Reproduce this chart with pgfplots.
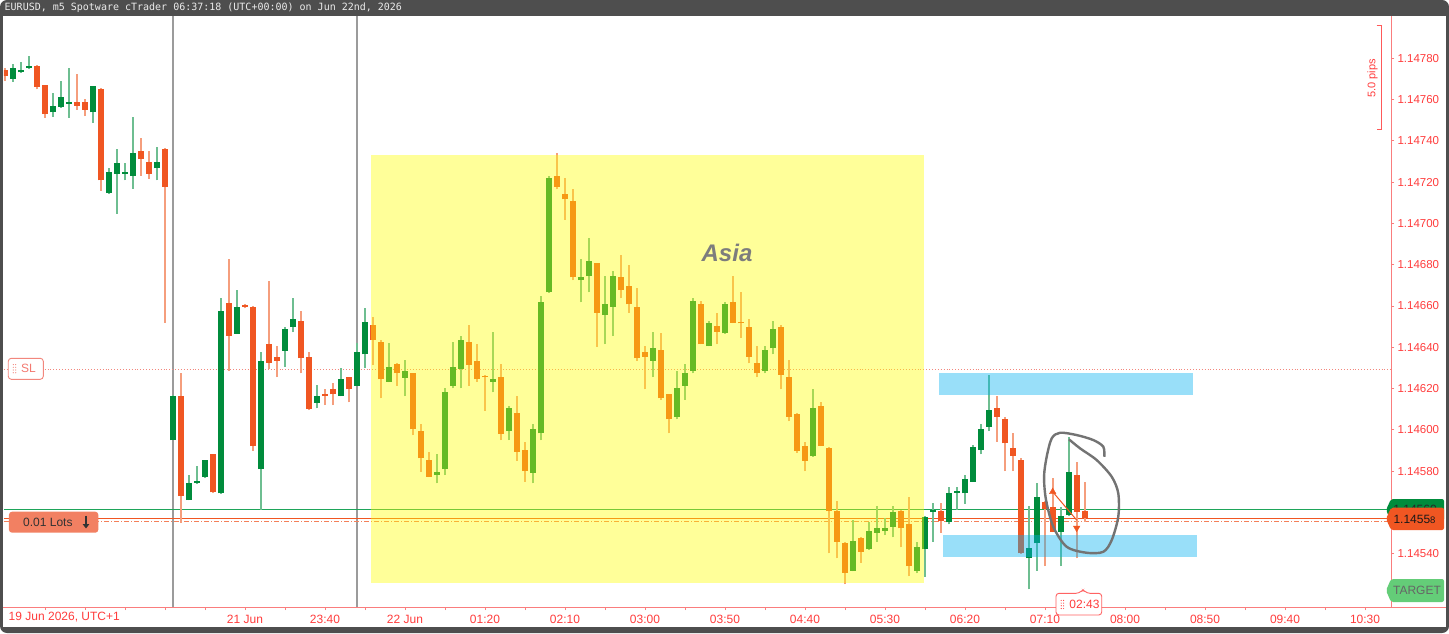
\documentclass[border=0pt]{standalone}
\usepackage{pgfplots}
\pgfplotsset{compat=1.18}
\usepackage{pgfplotstable}
\usetikzlibrary{arrows.meta,calc,backgrounds}
\usepackage{fontspec}
\setmainfont{Liberation Sans}
\newfontfamily\monofont{DejaVu Sans Mono}
\definecolor{bull}{RGB}{0,140,60}
\definecolor{bear}{RGB}{240,86,34}
\definecolor{bullwick}{RGB}{110,190,145}
\definecolor{bearwick}{RGB}{245,158,125}
\definecolor{axisline}{RGB}{250,125,125}
\definecolor{labelred}{RGB}{255,60,60}
\definecolor{framegray}{RGB}{78,78,78}
\definecolor{sepgray}{RGB}{155,155,155}
\definecolor{zoneblue}{RGB}{0,176,240}
\definecolor{zoneyellow}{RGB}{255,255,0}
\definecolor{handgray}{RGB}{115,115,115}
\definecolor{askgreen}{RGB}{30,165,90}
\definecolor{lotsfill}{RGB}{242,128,98}
\definecolor{targetgreen}{RGB}{100,205,120}
\definecolor{slred}{RGB}{242,135,125}
\definecolor{asiagray}{RGB}{125,125,125}
\newcommand{\firstdaylabel}{19 Jun 2026, UTC+1}

% EURUSD m5 candles; prices written as points above 1.14500 (58.0 = 1.14558)
\pgfplotstableread{
i o h l c
0 274.3 275.4 269.0 271.4
1 270.1 277.2 268.7 275.3
2 273.2 278.4 273.0 274.3
3 275.2 281.1 275.0 275.4
4 276.4 276.6 265.0 266.2
5 267.1 267.3 251.2 253.0
6 253.8 263.2 251.7 257.0
7 256.3 269.2 256.1 261.4
8 258.1 275.2 251.2 258.3
9 259.0 272.4 255.0 257.0
10 259.0 260.3 252.0 255.0
11 253.8 266.6 248.8 266.4
12 265.3 265.5 215.9 220.9
13 214.7 226.7 214.5 224.9
14 224.1 236.2 204.7 229.1
15 224.1 229.1 220.9 224.4
16 223.0 251.4 216.7 234.3
17 235.1 241.4 223.0 231.1
18 229.9 235.1 221.7 224.1
19 226.7 237.0 220.9 229.9
20 236.2 236.4 151.8 217.8
21 95.1 116.7 94.9 116.5
22 116.5 127.4 55.0 67.9
23 66.0 78.3 65.8 74.4
24 74.2 82.5 74.0 74.4
25 77.1 85.4 76.9 85.2
26 88.3 88.5 69.5 69.7
27 69.2 163.9 69.0 157.6
28 161.6 182.9 128.5 145.5
29 146.6 167.7 146.4 159.7
30 160.6 160.9 158.9 159.7
31 159.7 159.9 89.9 92.3
32 81.0 137.6 61.2 133.5
33 141.7 172.0 129.5 132.5
34 135.4 140.6 125.5 133.5
35 138.3 150.0 130.6 148.7
36 149.8 163.7 147.3 153.7
37 152.6 157.6 127.4 134.7
38 135.4 137.6 109.6 110.1
39 113.1 121.7 110.4 116.5
40 117.4 119.6 112.0 116.4
41 119.6 122.5 112.0 117.2
42 116.4 129.8 116.2 124.6
43 125.5 125.7 113.3 119.6
44 121.4 141.9 121.2 137.6
45 136.6 158.9 129.8 152.4
46 150.6 154.5 131.4 143.5
47 142.6 143.5 115.3 124.5
48 123.3 141.9 123.1 130.4
49 131.7 132.5 121.4 127.4
50 125.3 133.8 116.4 128.5
51 127.4 127.6 97.5 100.3
52 99.4 102.7 79.7 86.2
53 85.4 89.4 77.1 77.3
54 78.1 88.3 74.1 79.4
55 81.0 120.1 78.1 118.5
56 121.4 142.7 120.1 130.4
57 129.5 145.6 120.1 143.5
58 142.6 150.6 121.4 131.4
59 133.5 141.6 123.3 124.5
60 125.6 126.6 109.3 125.4
61 123.3 147.4 118.2 124.5
62 125.5 131.7 95.1 98.1
63 99.4 111.5 95.1 110.4
64 108.3 116.4 85.0 89.4
65 90.2 94.2 74.9 80.0
66 79.2 102.7 74.1 100.3
67 98.3 164.8 95.1 161.8
68 166.6 223.0 166.4 221.9
69 223.0 234.3 216.5 217.8
70 214.3 221.9 201.7 211.7
71 211.0 216.7 172.6 173.9
72 172.6 182.8 161.8 173.9
73 174.5 192.8 166.6 181.9
74 180.7 180.9 140.3 156.7
75 155.6 174.5 141.6 160.8
76 159.7 177.0 145.5 174.5
77 173.9 184.7 163.7 167.7
78 169.7 179.9 156.7 160.8
79 159.5 168.9 133.5 134.7
80 137.6 140.6 119.6 135.4
81 133.5 147.4 125.5 139.5
82 138.7 146.8 114.5 115.3
83 117.2 117.4 98.3 105.1
84 106.4 128.5 105.1 120.4
85 121.4 131.7 114.5 127.4
86 128.5 163.7 127.4 162.6
87 160.8 162.6 141.4 141.6
88 140.6 152.7 140.4 151.6
89 150.4 156.7 141.6 147.5
90 146.8 161.8 146.6 160.8
91 161.8 174.7 151.7 151.9
92 152.4 166.9 144.6 151.6
93 149.7 153.5 132.2 135.4
94 132.2 140.6 125.5 127.4
95 128.5 140.6 127.4 138.7
96 139.5 152.7 136.6 148.7
97 150.0 150.8 119.6 126.6
98 125.5 133.8 104.3 106.4
99 107.7 108.3 88.9 89.9
100 92.3 94.2 80.0 85.0
101 87.3 119.6 87.1 110.4
102 111.5 113.6 92.1 92.3
103 91.3 91.5 40.2 60.7
104 60.8 65.7 37.8 45.8
105 45.3 45.5 25.3 30.8
106 31.7 56.3 31.5 46.1
107 47.4 48.2 35.6 41.0
108 42.1 55.5 41.9 51.0
109 50.2 63.1 45.8 52.3
110 51.0 57.1 49.0 52.3
111 53.1 63.1 47.9 60.3
112 60.8 61.0 43.1 52.3
113 54.2 67.3 29.2 34.0
114 31.7 45.8 30.5 43.1
115 42.1 58.1 28.8 57.9
116 60.2 64.4 45.8 60.4
117 60.7 64.4 50.2 56.0
118 55.2 72.4 54.2 69.2
119 69.6 72.4 61.2 69.8
120 69.2 78.1 64.1 76.2
121 74.9 92.6 74.7 91.5
122 90.2 102.7 88.1 100.4
123 101.5 126.6 99.4 109.6
124 110.4 116.5 94.2 106.4
125 105.2 106.4 80.0 93.5
126 91.3 98.3 80.0 87.5
127 85.4 86.5 40.0 40.2
128 37.8 63.1 22.7 42.9
129 45.0 74.4 31.7 67.6
130 65.2 65.4 34.0 61.6
131 62.8 76.5 50.4 50.6
132 50.6 62.5 34.0 58.2
133 58.7 96.4 58.5 79.4
134 78.1 84.6 37.8 60.3
135 60.8 74.9 55.5 57.3
}\candles

\newcommand{\grip}[3]{% x y color
  \foreach \yy in {0,1,2,3}{\foreach \xx in {0,1}{\fill[#3] (#1+\xx*2.4,#2+\yy*2.7) circle (0.6);}}}

\begin{document}
\begin{tikzpicture}[x=1pt,y=1pt]
\begin{axis}[
  scale only axis,
  width=1387pt, height=591pt,
  xmin=-0.125, xmax=173.25, ymin=14.2, ymax=300.5,
  axis x line*=bottom, axis y line*=right,
  axis line style={draw=axisline, line width=1pt},
  tick align=outside, major tick length=3pt,
  tick style={draw=axisline, line width=0.9pt},
  xtick={5,10,...,170},
  xticklabels={,,,,,21 Jun,,23:40,,22 Jun,,01:20,,02:10,,03:00,,03:50,,04:40,,05:30,,06:20,,07:10,,08:00,,08:50,,09:40,,10:30},
  extra x ticks={7.41},
  extra x tick labels={\firstdaylabel},
  extra x tick style={major tick length=0pt},
  ytick={40,80,100,120,140,160,180,200,220,240,260,280},
  yticklabels={1.14540,1.14580,1.14600,1.14620,1.14640,1.14660,1.14680,1.14700,1.14720,1.14740,1.14760,1.14780},
  xticklabel style={font=\fontsize{12}{12}\selectfont, text=labelred, yshift=-1.5pt},
  yticklabel style={font=\fontsize{11.5}{12}\selectfont, text=labelred},
]
% session separators
\addplot[sepgray, line width=1.3pt, forget plot] coordinates {(21,14.2) (21,300.5)};
\addplot[sepgray, line width=1.3pt, forget plot] coordinates {(44,14.2) (44,300.5)};
% SL, ask, bid and position lines
\addplot[slred, line width=0.9pt, dotted, forget plot] coordinates {(-0.125,129.5) (173.25,129.5)};
\addplot[askgreen, line width=1pt, forget plot] coordinates {(-0.125,61.2) (173.25,61.2)};
\addplot[bear, line width=0.9pt, forget plot] coordinates {(-0.125,57.3) (173.25,57.3)};
\addplot[bear!75, line width=0.9pt, dash pattern=on 5pt off 2pt on 1pt off 2pt, forget plot] coordinates {(-0.125,55.5) (173.25,55.5)};
% wicks
\addplot[draw=none, no marks, forget plot,
  x filter/.expression={\thisrow{c}>=\thisrow{o} ? x : nan},
  error bars/.cd, y dir=plus, y explicit, error mark=none,
  error bar style={draw=bullwick, line width=1.3pt}]
  table[x=i, y=l, y error expr=\thisrow{h}-\thisrow{l}] {\candles};
\addplot[draw=none, no marks, forget plot,
  x filter/.expression={\thisrow{c}<\thisrow{o} ? x : nan},
  error bars/.cd, y dir=plus, y explicit, error mark=none,
  error bar style={draw=bearwick, line width=1.3pt}]
  table[x=i, y=l, y error expr=\thisrow{h}-\thisrow{l}] {\candles};
% bodies
\addplot[draw=none, no marks, forget plot,
  x filter/.expression={\thisrow{c}>=\thisrow{o} ? x : nan},
  error bars/.cd, y dir=plus, y explicit, error mark=none,
  error bar style={draw=bull, line width=5.6pt}]
  table[x=i, y expr={min(\thisrow{o},\thisrow{c})}, y error expr={max(abs(\thisrow{c}-\thisrow{o}),0.9)}] {\candles};
\addplot[draw=none, no marks, forget plot,
  x filter/.expression={\thisrow{c}<\thisrow{o} ? x : nan},
  error bars/.cd, y dir=plus, y explicit, error mark=none,
  error bar style={draw=bear, line width=5.6pt}]
  table[x=i, y expr={min(\thisrow{o},\thisrow{c})}, y error expr={max(abs(\thisrow{c}-\thisrow{o}),0.9)}] {\candles};
% Asia session box
\addplot[draw=none, fill=zoneyellow, fill opacity=0.4, forget plot] coordinates {(45.75,25.9) (114.875,25.9) (114.875,233.2) (45.75,233.2)};
\node[font=\fontsize{24}{24}\selectfont\bfseries\itshape, text=asiagray] at (axis cs:90.25,185.5) {Asia};
% zones
\addplot[draw=none, fill=zoneblue, fill opacity=0.4, forget plot] coordinates {(116.8,117.0) (148.5,117.0) (148.5,127.4) (116.8,127.4)};
\addplot[draw=none, fill=zoneblue, fill opacity=0.4, forget plot] coordinates {(117.3,38.5) (148.96,38.5) (148.96,49.0) (117.3,49.0)};
% hand drawing
\addplot[smooth, handgray, line width=2.4pt, forget plot] coordinates {
 (137.41,86.98) (137.29,91.83) (136.04,95.07) (133.96,97.49) (131.88,98.61) (130.84,95.90)
 (130.21,87.0) (129.88,77.29) (130.13,66.0) (131.04,53.06) (132.71,43.38) (135.21,40.47)
 (137.29,40.95) (138.34,46.62) (139.16,57.96) (139.16,69.25) (138.34,77.29) (136.46,85.38)
 (134.38,91.05) (133.0,95.41)};
\addplot[bear, line width=1pt, forget plot] coordinates {(130.96,70.0) (133.96,56.3)};
\addplot[only marks, mark=triangle*, mark size=3.8pt, color=bear, forget plot] coordinates {(130.96,70.0)};
\addplot[only marks, mark=triangle*, mark size=3.8pt, mark options={rotate=180}, color=bear, forget plot] coordinates {(133.96,52.5)};
\coordinate (axsw) at (rel axis cs:0,0);
\end{axis}

\begin{scope}[shift={($(axsw)-(4,26)$)}]
\begin{scope}[on background layer]
\fill[framegray, rounded corners=7pt] (0,0) rectangle (1449,633);
\fill[white] (3,6) rectangle (1446,617);
\end{scope}
\node[anchor=west, text=white!92!black, font=\monofont\fontsize{10}{10}\selectfont, inner sep=0pt] at (4.5,625) {EURUSD, m5 Spotware cTrader 06:37:18 (UTC+00:00) on Jun 22nd, 2026};

% bottom axis line extended to the frame
\draw[axisline, line width=1pt] (3,26) -- (1446,26);

% SL label
\filldraw[fill=white, draw=slred, line width=0.9pt, rounded corners=3pt] (8.3,253.7) rectangle (43.3,274.7);
\grip{13.3}{260.3}{slred}
\node[text=slred!90!red, font=\fontsize{12}{12}\selectfont, anchor=west, inner sep=0pt] at (21,264.2) {SL};

% Lots label
\fill[lotsfill, rounded corners=3pt] (9,100.3) rectangle (98.3,121.3);
\node[text=black!80, font=\fontsize{12}{12}\selectfont, anchor=west, inner sep=0pt] at (23,110.8) {0.01 Lots};
\draw[black!80, line width=1.8pt, -{Triangle[width=6.5pt,length=4.5pt]}] (86,117.5) -- (86,104.5);

% price labels on the right
\fill[bull, rounded corners=2pt] (1386,123) -- (1391,134) -- (1444,134) -- (1444,112) -- (1391,112) -- cycle;
\begin{scope}
\clip (1391,125.3) rectangle (1444,134);
\node[text=black!85, font=\fontsize{12}{12}\selectfont, inner sep=0pt] at (1415,123.5) {1.14560};
\end{scope}
\fill[bear, rounded corners=2pt] (1386,114.2) -- (1391,125.3) -- (1444,125.3) -- (1444,103) -- (1391,103) -- cycle;
\node[text=black!90, font=\fontsize{12}{12}\selectfont, inner sep=0pt] at (1414.5,113.2) {1.1455{\fontsize{9.5}{9.5}\selectfont 8}};
\fill[targetgreen, rounded corners=2pt] (1386,42.5) -- (1391,54) -- (1444,54) -- (1444,31) -- (1391,31) -- cycle;
\node[text=black!60, font=\fontsize{12}{12}\selectfont, inner sep=0pt] at (1417,42.5) {TARGET};

% time label
\filldraw[fill=white, draw=labelred!80, line width=0.9pt, rounded corners=3pt] (1056,18) -- (1056,39.7) -- (1079,39.7) -- (1083,43.5) -- (1087,39.7) -- (1101.7,39.7) -- (1101.7,18) -- cycle;
\grip{1061.2}{24.5}{labelred}
\node[text=labelred, font=\fontsize{12}{12}\selectfont, inner sep=0pt] at (1084.5,28.8) {02:43};

% pips ruler
\draw[labelred!85, line width=0.8pt] (1376.7,608) -- (1381.7,608) -- (1381.7,503.7) -- (1376.7,503.7);
\node[text=labelred, font=\fontsize{11}{11}\selectfont, rotate=90, inner sep=0pt] at (1372.5,554.7) {5.0 pips};

\coordinate (BBL) at (0,0);
\coordinate (BTR) at (1449,633);
\end{scope}
\pgfresetboundingbox
\useasboundingbox (BBL) rectangle (BTR);
\end{tikzpicture}
\end{document}
